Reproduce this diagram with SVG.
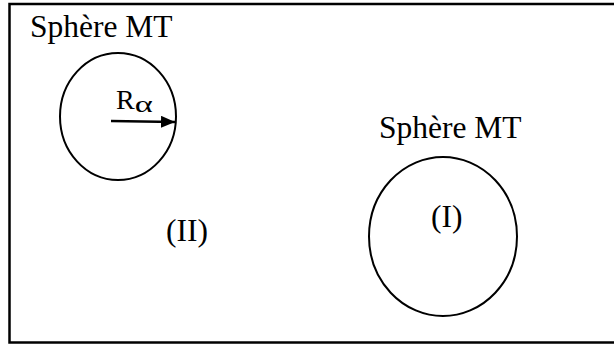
<svg xmlns="http://www.w3.org/2000/svg" width="614" height="346" viewBox="0 0 614 346">
<style>
text{font-family:"Liberation Serif","Times New Roman",serif;fill:#000}
.big{font-size:31.5px}
.shape{fill:none;stroke:#000;stroke-width:2}
</style>
<defs>
<marker id="ah" markerWidth="14" markerHeight="12" refX="14" refY="6" orient="auto" markerUnits="userSpaceOnUse">
<path d="M0,0 L14,6 L0,12 Z" fill="#000"/>
</marker>
</defs>
<rect width="614" height="346" fill="#fff"/>
<rect id="frame" x="9.5" y="4" width="620" height="338.5" fill="none" stroke="#000" stroke-width="2.5"/>
<g id="sphere-left">
<text class="big" x="30" y="37">Sphère MT</text>
<ellipse class="shape" cx="118" cy="116.5" rx="58" ry="63.5"/>
<text x="116" y="109" font-size="28">R<tspan font-size="23" dy="3" textLength="18" lengthAdjust="spacingAndGlyphs">α</tspan></text>
</g>
<g id="sphere-right">
<text class="big" x="379" y="138">Sphère MT</text>
<ellipse class="shape" cx="443" cy="236.5" rx="74" ry="79.5"/>
<text class="big" x="431" y="227">(I)</text>
</g>
<g id="region-II">
<text class="big" x="166" y="241">(II)</text>
</g>
<g id="connectors">
<line x1="111" y1="121" x2="175" y2="122" stroke="#000" stroke-width="2.5" marker-end="url(#ah)"/>
</g>
</svg>
